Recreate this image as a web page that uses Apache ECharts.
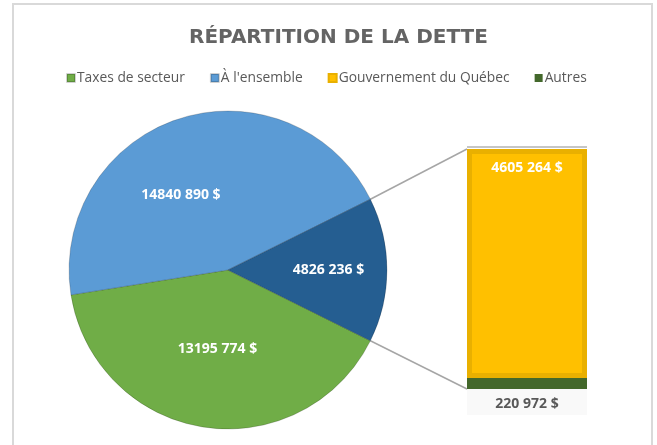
<!DOCTYPE html>
<html>
<head>
<meta charset="utf-8">
<script src="https://cdn.jsdelivr.net/npm/echarts@6/dist/echarts.min.js"></script>
<style>
  html, body { margin: 0; padding: 0; background: #ffffff; }
  #dette { width: 657px; height: 445px; }
</style>
</head>
<body>
<div id="dette"></div>
<script>
    // données
    var pieNames = ['Taxes de secteur', "À l'ensemble", 'Autre'];
    var pieValues = [13195774, 14840890, 4826236];
    var pieColors = ['#70AD47', '#5B9BD5', '#255E91'];

    var barCategory = ['Autre'];
    var barNames = ['Autres', 'Gouvernement du Québec'];
    var barValues = [220972, 4605264];
    var barColors = ['#43682B', '#FFC000'];

    var legendNames = ['Taxes de secteur', "À l'ensemble", 'Gouvernement du Québec', 'Autres'];

    // format "14840 890 $"
    function money(v) {
        var t = Math.floor(v / 1000), r = v % 1000;
        return t + ' ' + ('00' + r).slice(-3) + ' $';
    }

    var total = pieValues.reduce(function (a, b) { return a + b; }, 0);
    var lastAngle = pieValues[2] / total * 360;
    var startAngle = -lastAngle / 2;   // la portion "Autre" est centrée à droite
    var pieCenter = [228, 270];
    var pieRadius = 159;

    var labelOffsets = [[2, -3], [-22, 4], [18, 0]];

    var pieData = pieNames.map(function (n, i) {
        return {
            name: n,
            value: pieValues[i],
            itemStyle: { color: pieColors[i] },
            label: { offset: labelOffsets[i] }
        };
    });

    var myChart = echarts.init(document.getElementById('dette'));
    myChart.setOption({
        animation: false,
        title: {
            text: 'RÉPARTITION DE LA DETTE',
            left: 184,
            top: 23,
            textStyle: {
                color: '#646464',
                fontFamily: 'DejaVu Sans',
                fontWeight: 'bold',
                fontSize: 20
            }
        },
        color: ['#70AD47', '#5B9BD5', '#FFC000', '#43682B'],
        legend: {
            data: legendNames,
            left: 61,
            top: 66,
            icon: 'rect',
            itemWidth: 8,
            itemHeight: 8,
            itemGap: 25,
            textStyle: {
                color: '#595959',
                fontFamily: 'Open Sans',
                fontSize: 13.8,
                padding: [0, 0, 0, -3]
            }
        },
        grid: {
            left: 467,
            top: 149,
            width: 120,
            height: 240
        },
        xAxis: {
            type: 'category',
            data: barCategory,
            show: false
        },
        yAxis: {
            type: 'value',
            min: 0,
            max: pieValues[2],
            show: false
        },
        series: [
            {
                type: 'pie',
                center: pieCenter,
                radius: pieRadius,
                startAngle: startAngle,
                clockwise: true,
                data: pieData,
                itemStyle: {
                    borderColor: 'rgba(0,0,0,0.18)',
                    borderWidth: 1
                },
                label: {
                    position: 'inside',
                    color: '#ffffff',
                    fontFamily: 'Open Sans',
                    fontWeight: 'bold',
                    fontSize: 14,
                    formatter: function (p) { return money(p.value); }
                },
                labelLine: { show: false },
                emphasis: { disabled: true }
            },
            {
                type: 'bar',
                name: barNames[0],
                stack: 'autre',
                barWidth: '100%',
                data: [barValues[0]],
                itemStyle: { color: barColors[0] },
                label: {
                    show: true,
                    position: 'bottom',
                    distance: 0,
                    width: 120,
                    align: 'center',
                    padding: [8, 0, 4, 0],
                    backgroundColor: '#f9f9f9',
                    color: '#595959',
                    fontFamily: 'Open Sans',
                    fontWeight: 'bold',
                    fontSize: 14,
                    formatter: function (p) { return money(p.value); }
                }
            },
            {
                type: 'bar',
                name: barNames[1],
                stack: 'autre',
                barWidth: '100%',
                data: [barValues[1]],
                itemStyle: {
                    color: barColors[1],
                    borderColor: '#E9B000',
                    borderWidth: 5
                },
                label: {
                    show: true,
                    position: 'insideTop',
                    distance: 12,
                    color: '#ffffff',
                    fontFamily: 'Open Sans',
                    fontWeight: 'bold',
                    fontSize: 14,
                    formatter: function (p) { return money(p.value); }
                }
            }
        ]
    });

    // lignes de liaison entre la portion "Autre" et la barre
    var a = lastAngle / 2 * Math.PI / 180;
    var pTop = [pieCenter[0] + pieRadius * Math.cos(a), pieCenter[1] - pieRadius * Math.sin(a)];
    var pBot = [pieCenter[0] + pieRadius * Math.cos(a), pieCenter[1] + pieRadius * Math.sin(a)];
    var barTop = myChart.convertToPixel({ gridIndex: 0 }, [0, pieValues[2]]);
    var barBot = myChart.convertToPixel({ gridIndex: 0 }, [0, 0]);
    var barLeft = 467, barRight = 587;

    myChart.setOption({
        graphic: [
            {
                type: 'rect',
                shape: { x: 13, y: 4, width: 639, height: 460 },
                style: { fill: 'none', stroke: '#d9d9d9', lineWidth: 2 },
                silent: true
            },
            {
                type: 'line',
                shape: { x1: pTop[0], y1: pTop[1], x2: barLeft, y2: barTop[1] },
                style: { stroke: '#a6a6a6', lineWidth: 1.5 },
                silent: true
            },
            {
                type: 'line',
                shape: { x1: pBot[0], y1: pBot[1], x2: barLeft, y2: barBot[1] },
                style: { stroke: '#a6a6a6', lineWidth: 1.5 },
                silent: true
            },
            {
                type: 'line',
                shape: { x1: barLeft, y1: barTop[1] - 2, x2: barRight, y2: barTop[1] - 2 },
                style: { stroke: '#8c8c8c', lineWidth: 1 },
                silent: true
            }
        ]
    });
</script>
</body>
</html>
